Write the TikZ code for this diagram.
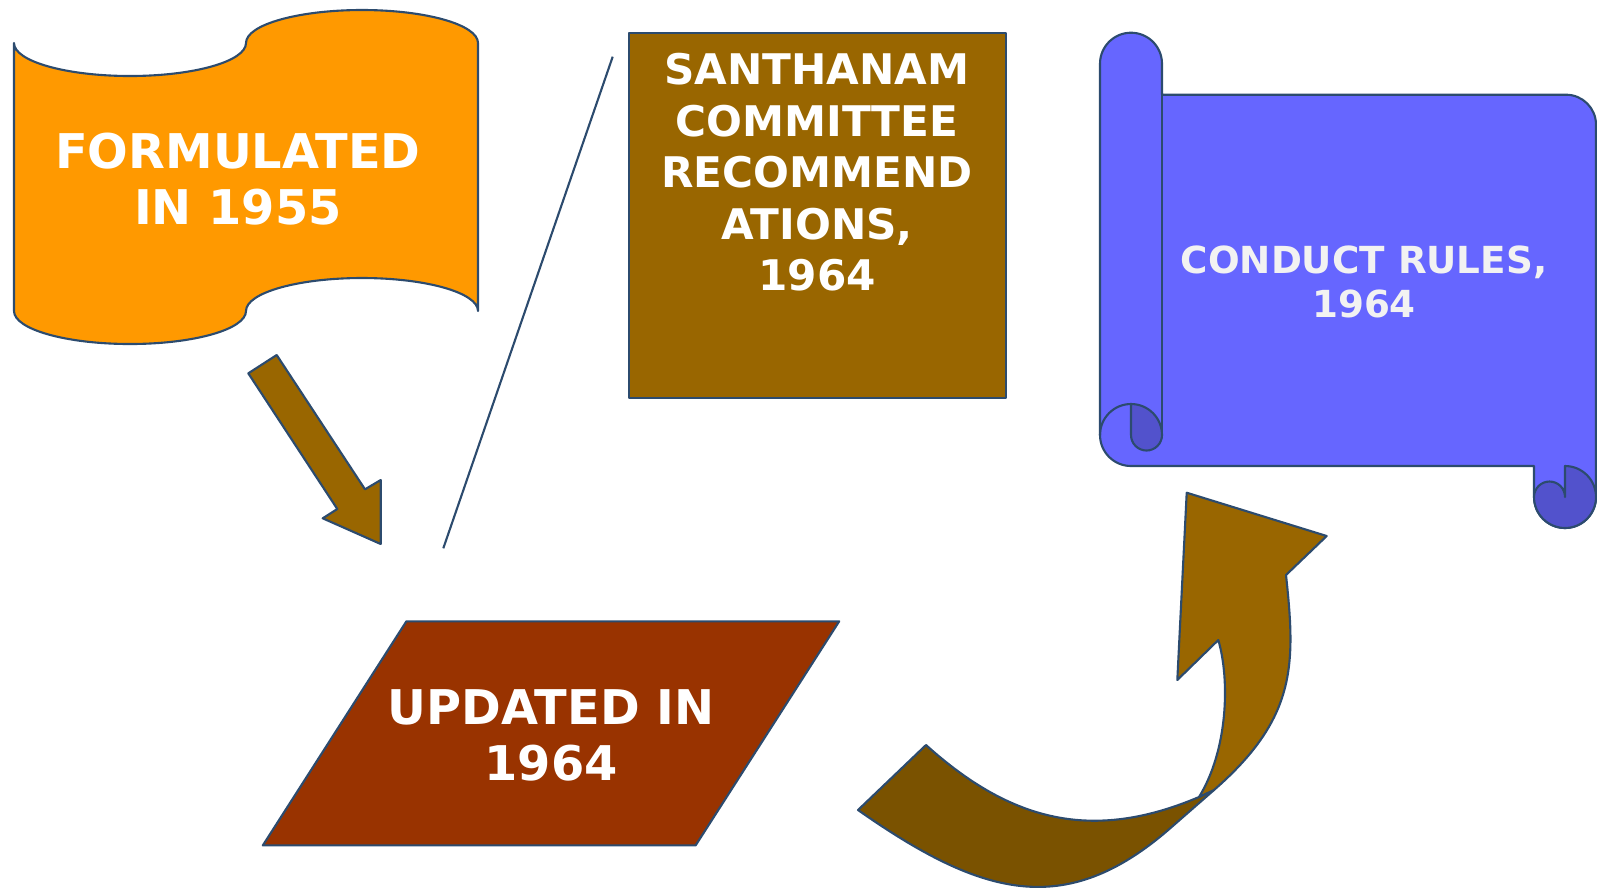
\documentclass[tikz,border=0pt]{standalone}
\usepackage{fontspec}
\setmainfont{DejaVu Sans}
\usepackage{xcolor}
\usepackage{tikz}
\definecolor{outline}{HTML}{2C4B6E}
\definecolor{flagorange}{HTML}{FF9900}
\definecolor{ochre}{HTML}{996600}
\definecolor{ochredark}{HTML}{7A5200}
\definecolor{rust}{HTML}{993300}
\definecolor{scrollblue}{HTML}{6666FF}
\definecolor{scrolldark}{HTML}{5252CC}
\definecolor{paletext}{HTML}{F2F2F2}

\begin{document}
\begin{tikzpicture}[x=0.01cm, y=-0.01cm,
  panel/.style={draw=outline, line width=0.6pt, line join=round},
  bigtxt/.style={text=white, font=\bfseries\fontsize{13.6}{15.9}\selectfont, align=center, inner sep=0pt},
  boxtxt/.style={text=white, font=\bfseries\fontsize{12}{14.66}\selectfont, align=center, inner sep=0pt},
  scrolltxt/.style={text=paletext, font=\bfseries\fontsize{10.6}{12.56}\selectfont, align=center, inner sep=0pt}
]
  \useasboundingbox (0,0) rectangle (1597,887);

  % wavy banner
  \draw[panel, fill=flagorange] (14,43)
    arc[start angle=180, end angle=0, x radius=116, y radius=33]
    arc[start angle=180, end angle=360, x radius=116, y radius=33]
    -- (478,311)
    arc[start angle=0, end angle=-180, x radius=116, y radius=33]
    arc[start angle=0, end angle=180, x radius=116, y radius=33]
    -- cycle;
  \node[bigtxt] (formed) at (238,179) {FORMULATED\\IN 1955};

  % straight arrow
  \draw[panel, fill=ochre] (248.3,373.3) -- (276.7,355) -- (365,489.3) -- (380.7,480)
    -- (380.7,544) -- (322.7,518.3) -- (337.3,509) -- cycle;

  % thin slash
  \coordinate (slashtop) at (612.7,56.7);
  \coordinate (slashbot) at (443.3,548.3);
  \draw[panel] (slashtop) -- (slashbot);

  % committee box
  \draw[panel, fill=ochre] (629,33) rectangle (1006,398);
  \node[boxtxt] (santhanam) at (817,172.5) {SANTHANAM\\COMMITTEE\\RECOMMEND\\ATIONS,\\1964};

  % parallelogram
  \draw[panel, fill=rust] (406.4,621.3) -- (839.2,621.3) -- (695.6,845.4) -- (262.8,845.4) -- cycle;
  \node[bigtxt] (updated) at (551,735.5) {UPDATED IN\\1964};

  % curved arrow, back part then front part
  \draw[panel, fill=ochredark] (858,810)
    .. controls (980.9,896) and (1064.6,920.4) .. (1170,828.4)
    -- (1214,790) -- (1199,797)
    .. controls (1093,842) and (1011.5,822) .. (926,745) -- cycle;
  \draw[panel, fill=ochre] (1199,797)
    .. controls (1228,750) and (1230,680) .. (1218.3,640)
    -- (1177.3,680) -- (1186.7,492.7) -- (1326.7,536) -- (1286,575)
    .. controls (1295.6,664.5) and (1296.8,717.7) .. (1214,790) -- cycle;

  % scroll
  \draw[panel, fill=scrollblue] (1100,435) -- (1100,63.7)
    arc[start angle=180, end angle=360, radius=31] -- (1162,94.7) -- (1566,94.7)
    arc[start angle=270, end angle=360, radius=30] -- (1596,497)
    arc[start angle=0, end angle=180, radius=31] -- (1534,466) -- (1131,466)
    arc[start angle=90, end angle=180, radius=31] -- cycle;
  \draw[panel] (1162,63.7) -- (1162,435);
  \draw[panel] (1100,435) arc[start angle=180, end angle=270, radius=31];
  \draw[panel, fill=scrolldark] (1131,404) -- (1131,435)
    arc[start angle=180, end angle=0, radius=15.5]
    arc[start angle=0, end angle=-90, radius=31] -- cycle;
  \draw[panel, fill=scrolldark] (1565,466)
    arc[start angle=-90, end angle=180, radius=31]
    arc[start angle=180, end angle=360, radius=15.5] -- cycle;
  \node[scrolltxt] (conduct) at (1364,282) {CONDUCT RULES,\\1964};
\end{tikzpicture}
\end{document}
